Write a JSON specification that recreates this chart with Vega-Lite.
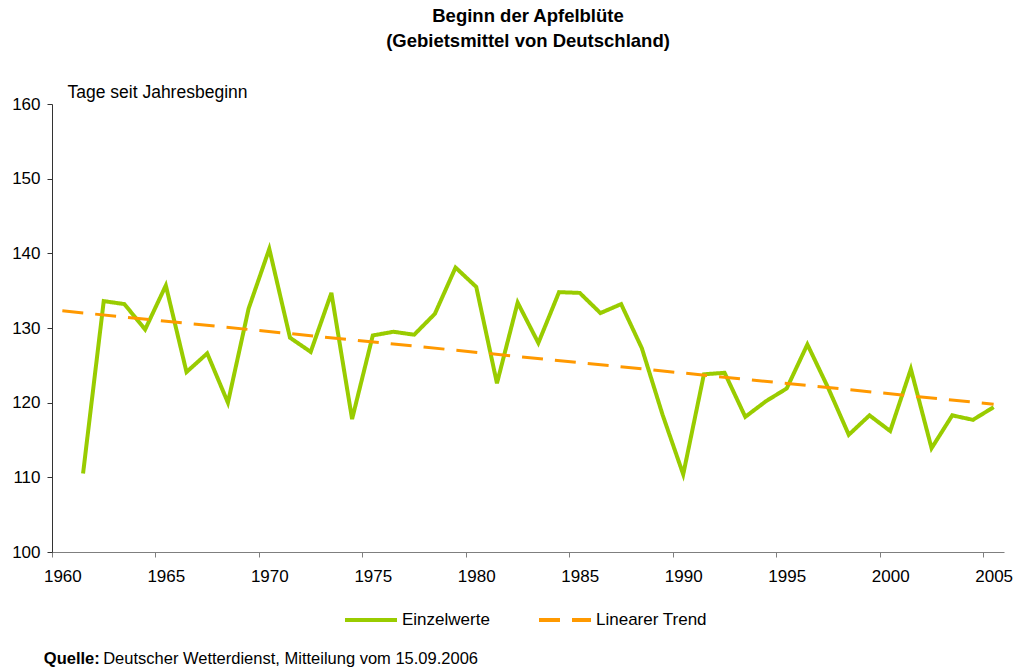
{
  "$schema": "https://vega.github.io/schema/vega-lite/v6.json",
  "width": 952,
  "height": 448,
  "autosize": "none",
  "padding": {"left": 52, "top": 104, "right": 11, "bottom": 115},
  "background": "white",
  "title": {
    "text": ["Beginn der Apfelblüte", "(Gebietsmittel von Deutschland)"],
    "font": "Liberation Sans",
    "fontSize": 18.5,
    "fontWeight": "bold",
    "color": "black",
    "anchor": "middle",
    "frame": "group",
    "lineHeight": 25,
    "offset": 33
  },
  "config": {
    "view": {"stroke": null},
    "font": "Liberation Sans",
    "legend": {
      "title": null,
      "orient": "none",
      "legendX": 291,
      "legendY": 488,
      "direction": "horizontal",
      "symbolType": "stroke",
      "symbolSize": 2704,
      "symbolStrokeWidth": 4,
      "labelFont": "Liberation Sans",
      "labelFontSize": 17,
      "labelColor": "black",
      "labelOffset": 3,
      "columnPadding": 41
    }
  },
  "datasets": {
    "einzel": [
      {"jahr": 1961, "tage": 110.5},
      {"jahr": 1962, "tage": 133.6},
      {"jahr": 1963, "tage": 133.2},
      {"jahr": 1964, "tage": 129.8},
      {"jahr": 1965, "tage": 135.7},
      {"jahr": 1966, "tage": 124.1},
      {"jahr": 1967, "tage": 126.6},
      {"jahr": 1968, "tage": 120.0},
      {"jahr": 1969, "tage": 132.6},
      {"jahr": 1970, "tage": 140.6},
      {"jahr": 1971, "tage": 128.7},
      {"jahr": 1972, "tage": 126.8},
      {"jahr": 1973, "tage": 134.7},
      {"jahr": 1974, "tage": 117.8},
      {"jahr": 1975, "tage": 129.0},
      {"jahr": 1976, "tage": 129.5},
      {"jahr": 1977, "tage": 129.1},
      {"jahr": 1978, "tage": 131.9},
      {"jahr": 1979, "tage": 138.1},
      {"jahr": 1980, "tage": 135.5},
      {"jahr": 1981, "tage": 122.6},
      {"jahr": 1982, "tage": 133.4},
      {"jahr": 1983, "tage": 128.0},
      {"jahr": 1984, "tage": 134.8},
      {"jahr": 1985, "tage": 134.7},
      {"jahr": 1986, "tage": 132.0},
      {"jahr": 1987, "tage": 133.2},
      {"jahr": 1988, "tage": 127.3},
      {"jahr": 1989, "tage": 118.4},
      {"jahr": 1990, "tage": 110.4},
      {"jahr": 1991, "tage": 123.8},
      {"jahr": 1992, "tage": 124.0},
      {"jahr": 1993, "tage": 118.1},
      {"jahr": 1994, "tage": 120.2},
      {"jahr": 1995, "tage": 121.9},
      {"jahr": 1996, "tage": 127.8},
      {"jahr": 1997, "tage": 122.0},
      {"jahr": 1998, "tage": 115.7},
      {"jahr": 1999, "tage": 118.3},
      {"jahr": 2000, "tage": 116.2},
      {"jahr": 2001, "tage": 124.5},
      {"jahr": 2002, "tage": 113.9},
      {"jahr": 2003, "tage": 118.3},
      {"jahr": 2004, "tage": 117.7},
      {"jahr": 2005, "tage": 119.4}
    ],
    "trend": [
      {"jahr": 1960, "tage": 132.3},
      {"jahr": 2005, "tage": 119.8}
    ]
  },
  "layer": [
    {
      "data": {"name": "einzel"},
      "mark": {"type": "line", "strokeWidth": 4, "strokeJoin": "miter"},
      "encoding": {
        "x": {
          "field": "jahr",
          "type": "quantitative",
          "scale": {"domain": [1959.5, 2005.5], "nice": false, "zero": false},
          "axis": {
            "values": [1960, 1965, 1970, 1975, 1980, 1985, 1990, 1995, 2000, 2005],
            "format": "d",
            "tickOffset": -10.35,
            "labelOffset": 10.35,
            "tickSize": 5,
            "tickColor": "#7f7f7f",
            "domainColor": "#7f7f7f",
            "grid": false,
            "labelFont": "Liberation Sans",
            "labelFontSize": 17,
            "labelColor": "black",
            "labelPadding": 11,
            "labelFlush": false,
            "labelOverlap": false,
            "title": "Deutscher Wetterdienst, Mitteilung vom 15.09.2006",
            "titleFont": "Liberation Sans",
            "titleFontSize": 16.5,
            "titleFontWeight": "normal",
            "titleColor": "black",
            "titleX": 50.7,
            "titleY": 111,
            "titleAlign": "left",
            "titleBaseline": "alphabetic"
          }
        },
        "y": {
          "field": "tage",
          "type": "quantitative",
          "scale": {"domain": [100, 160], "nice": false, "zero": false},
          "axis": {
            "values": [100, 110, 120, 130, 140, 150, 160],
            "tickSize": 5,
            "tickColor": "#333333",
            "domainColor": "#333333",
            "grid": false,
            "labelFont": "Liberation Sans",
            "labelFontSize": 17,
            "labelColor": "black",
            "labelPadding": 7,
            "labelFlush": false,
            "title": "Tage seit Jahresbeginn",
            "titleFont": "Liberation Sans",
            "titleFontSize": 17.5,
            "titleFontWeight": "normal",
            "titleColor": "black",
            "titleAngle": 0,
            "titleX": 15,
            "titleY": -7,
            "titleAlign": "left",
            "titleBaseline": "alphabetic"
          }
        },
        "color": {
          "datum": "Einzelwerte",
          "scale": {"domain": ["Einzelwerte", "Linearer Trend"], "range": ["#99CC00", "#FF9900"]}
        },
        "strokeDash": {
          "datum": "Einzelwerte",
          "scale": {"domain": ["Einzelwerte", "Linearer Trend"], "range": [[1, 0], [21, 12]]}
        }
      }
    },
    {
      "data": {"name": "trend"},
      "mark": {"type": "line", "strokeWidth": 3},
      "encoding": {
        "x": {
          "field": "jahr",
          "type": "quantitative",
          "axis": {"title": "Deutscher Wetterdienst, Mitteilung vom 15.09.2006"}
        },
        "y": {
          "field": "tage",
          "type": "quantitative",
          "axis": {
            "orient": "right",
            "domain": false,
            "ticks": false,
            "labels": false,
            "grid": false,
            "title": "Quelle:",
            "titleFont": "Liberation Sans",
            "titleFontSize": 16.5,
            "titleFontWeight": "bold",
            "titleColor": "black",
            "titleAngle": 0,
            "titleX": -960.7,
            "titleY": 559.7,
            "titleAlign": "left",
            "titleBaseline": "alphabetic"
          }
        },
        "color": {"datum": "Linearer Trend"},
        "strokeDash": {"datum": "Linearer Trend"}
      }
    }
  ],
  "resolve": {"axis": {"y": "independent"}}
}
